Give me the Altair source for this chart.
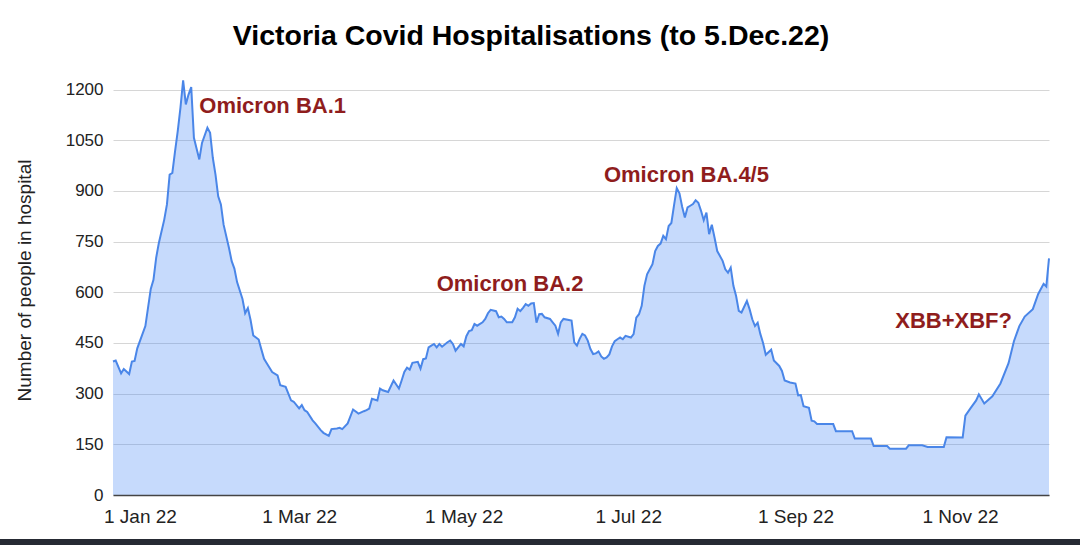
import altair as alt
import pandas as pd

# Days relative to 1 Jan 2022 and people in hospital
DAYS = [-10, -9, -7, -6, -4, -3, -2, -1, 2, 4, 5, 6, 7, 9, 10, 11, 12, 13, 14, 15,
        16, 17, 18, 19, 20, 21, 22, 23, 25, 26, 27, 28, 29, 30, 31, 33, 34, 35, 36, 38,
        39, 40, 41, 42, 44, 45, 46, 47, 49, 51, 52, 54, 56, 57, 59, 60, 61, 62, 64, 65,
        67, 68, 70, 71, 73, 74, 75, 77, 79, 81, 83, 84, 85, 86, 88, 89, 90, 92, 94, 96,
        97, 98, 99, 100, 101, 103, 104, 105, 106, 107, 108, 109, 110, 111, 112, 114, 115, 116, 117, 119,
        120, 121, 122, 123, 124, 125, 127, 128, 129, 130, 132, 133, 134, 135, 136, 138, 139, 140, 141, 142,
        143, 144, 145, 146, 147, 148, 149, 150, 152, 153, 154, 155, 156, 157, 159, 160, 161, 162, 163, 164,
        165, 166, 167, 168, 169, 170, 171, 172, 173, 174, 175, 176, 177, 178, 179, 180, 182, 183, 184, 185,
        186, 187, 188, 189, 190, 191, 192, 193, 194, 195, 196, 197, 198, 199, 200, 201, 202, 203, 204, 205,
        206, 207, 208, 209, 210, 211, 212, 213, 214, 216, 217, 218, 219, 220, 221, 222, 223, 225, 226, 227,
        228, 229, 230, 231, 232, 234, 235, 237, 238, 239, 241, 243, 244, 245, 246, 248, 249, 250, 251, 257,
        258, 264, 265, 271, 272, 277, 278, 284, 285, 290, 292, 298, 299, 305, 306, 308, 310, 311, 313, 316,
        319, 322, 324, 326, 328, 331, 333, 335, 336, 337]
PATIENTS = [395, 398, 360, 373, 358, 395, 397, 434, 500, 610, 637, 702, 746, 815, 860, 948, 953, 1017, 1077, 1146,
            1227, 1156, 1185, 1207, 1057, 1025, 993, 1042, 1087, 1072, 998, 948, 884, 860, 800, 731, 692, 670, 630, 580,
            538, 553, 518, 472, 460, 431, 403, 390, 364, 354, 325, 320, 280, 276, 256, 266, 251, 246, 221, 212,
            192, 184, 175, 195, 197, 199, 195, 212, 253, 241, 248, 251, 256, 285, 280, 315, 310, 305, 339, 315,
            339, 364, 377, 371, 391, 394, 374, 402, 404, 437, 442, 447, 437, 447, 439, 452, 457, 447, 427, 447,
            440, 470, 485, 488, 506, 501, 511, 521, 538, 548, 544, 526, 528, 521, 511, 511, 526, 551, 544, 554,
            565, 560, 567, 568, 510, 535, 536, 526, 521, 511, 501, 477, 511, 521, 518, 516, 452, 442, 462, 477,
            472, 457, 432, 417, 419, 425, 410, 403, 407, 416, 440, 455, 461, 466, 461, 471, 466, 476, 525, 535,
            560, 619, 653, 668, 683, 722, 737, 744, 767, 757, 796, 805, 858, 908, 893, 853, 821, 851, 856, 861,
            872, 865, 841, 813, 836, 772, 800, 762, 722, 693, 668, 658, 673, 619, 589, 545, 540, 574, 550, 520,
            500, 510, 476, 450, 415, 430, 398, 382, 367, 339, 333, 330, 295, 296, 263, 258, 220, 218, 210, 210,
            189, 189, 167, 167, 145, 145, 137, 137, 147, 147, 142, 142, 171, 170, 235, 258, 280, 298, 271, 292,
            330, 390, 455, 500, 528, 550, 595, 625, 617, 700]

ANNOT_TEXT = ["Omicron BA.1", "Omicron BA.2", "Omicron BA.4/5", "XBB+XBF?"]
ANNOT_DAY = [22, 110, 172, 280]
ANNOT_VALUE = [1150, 624, 946, 514]

Y_TICKS = [0, 150, 300, 450, 600, 750, 900, 1050, 1200]
X_TICK_MONTHS = [1, 3, 5, 7, 9, 11]

TITLE = "Victoria Covid Hospitalisations (to 5.Dec.22)"
Y_TITLE = "Number of people in hospital"

base = pd.Timestamp("2022-01-01")
df = pd.DataFrame({"date": [base + pd.Timedelta(days=d) for d in DAYS],
                   "patients": PATIENTS})
ann = pd.DataFrame({"date": [base + pd.Timedelta(days=d) for d in ANNOT_DAY],
                    "patients": ANNOT_VALUE, "label": ANNOT_TEXT})

FONT = "Liberation Sans"

x_scale = alt.Scale(domain=[alt.DateTime(year=2021, month=12, date=22),
                            alt.DateTime(year=2022, month=12, date=4)], nice=False)
y_scale = alt.Scale(domain=[0, 1240], nice=False)

x_enc = alt.X("date:T", scale=x_scale, axis=alt.Axis(
    values=[alt.DateTime(year=2022, month=m, date=1) for m in X_TICK_MONTHS],
    format="%-d %b %y", labelFont=FONT, labelFontSize=19, labelColor="#222222",
    labelPadding=12, ticks=False, grid=False, domainColor="#444444", domainWidth=1.5,
    labelAngle=0, labelOverlap=False, labelFlush=False, title=None, zindex=1))
y_enc = alt.Y("patients:Q", scale=y_scale, axis=alt.Axis(
    values=Y_TICKS, format="d", labelFont=FONT, labelFontSize=17, labelColor="#222222",
    labelPadding=10, ticks=False, domain=False, gridColor="#d6d6d6", gridWidth=1,
    title=Y_TITLE, titleFont=FONT, titleFontSize=19, titleFontWeight="normal",
    titleColor="#222222", titleX=-89, titleY=204, titleAlign="center",
    titleBaseline="middle"))

area = alt.Chart(df).mark_area(color="#4285f4", opacity=0.3).encode(x=x_enc, y=y_enc)
line = alt.Chart(df).mark_line(color="#4a86e8", strokeWidth=2).encode(x="date:T", y="patients:Q")
labels = alt.Chart(ann).mark_text(align="left", baseline="middle", font=FONT, fontSize=22,
                                  fontWeight="bold", color="#8f1d1d").encode(
    x="date:T", y="patients:Q", text="label:N")
bar = alt.Chart(pd.DataFrame({"a": [0]})).mark_rule(color="#262a33", strokeWidth=8).encode(
    x=alt.value(-113), x2=alt.value(967), y=alt.value(467))

chart = alt.layer(area, line, labels, bar).properties(
    width=936, height=419,
    autosize=alt.AutoSizeParams(type="none"),
    padding={"left": 113, "top": 76, "right": 31, "bottom": 50},
    title=alt.Title(TITLE, font=FONT, fontSize=28.5, fontWeight="bold", color="#000000",
                    anchor="middle", dx=-50, offset=26),
    background="white",
).configure_view(stroke=None)

chart.save("out.html", embed_options={"renderer": "svg", "actions": False})
